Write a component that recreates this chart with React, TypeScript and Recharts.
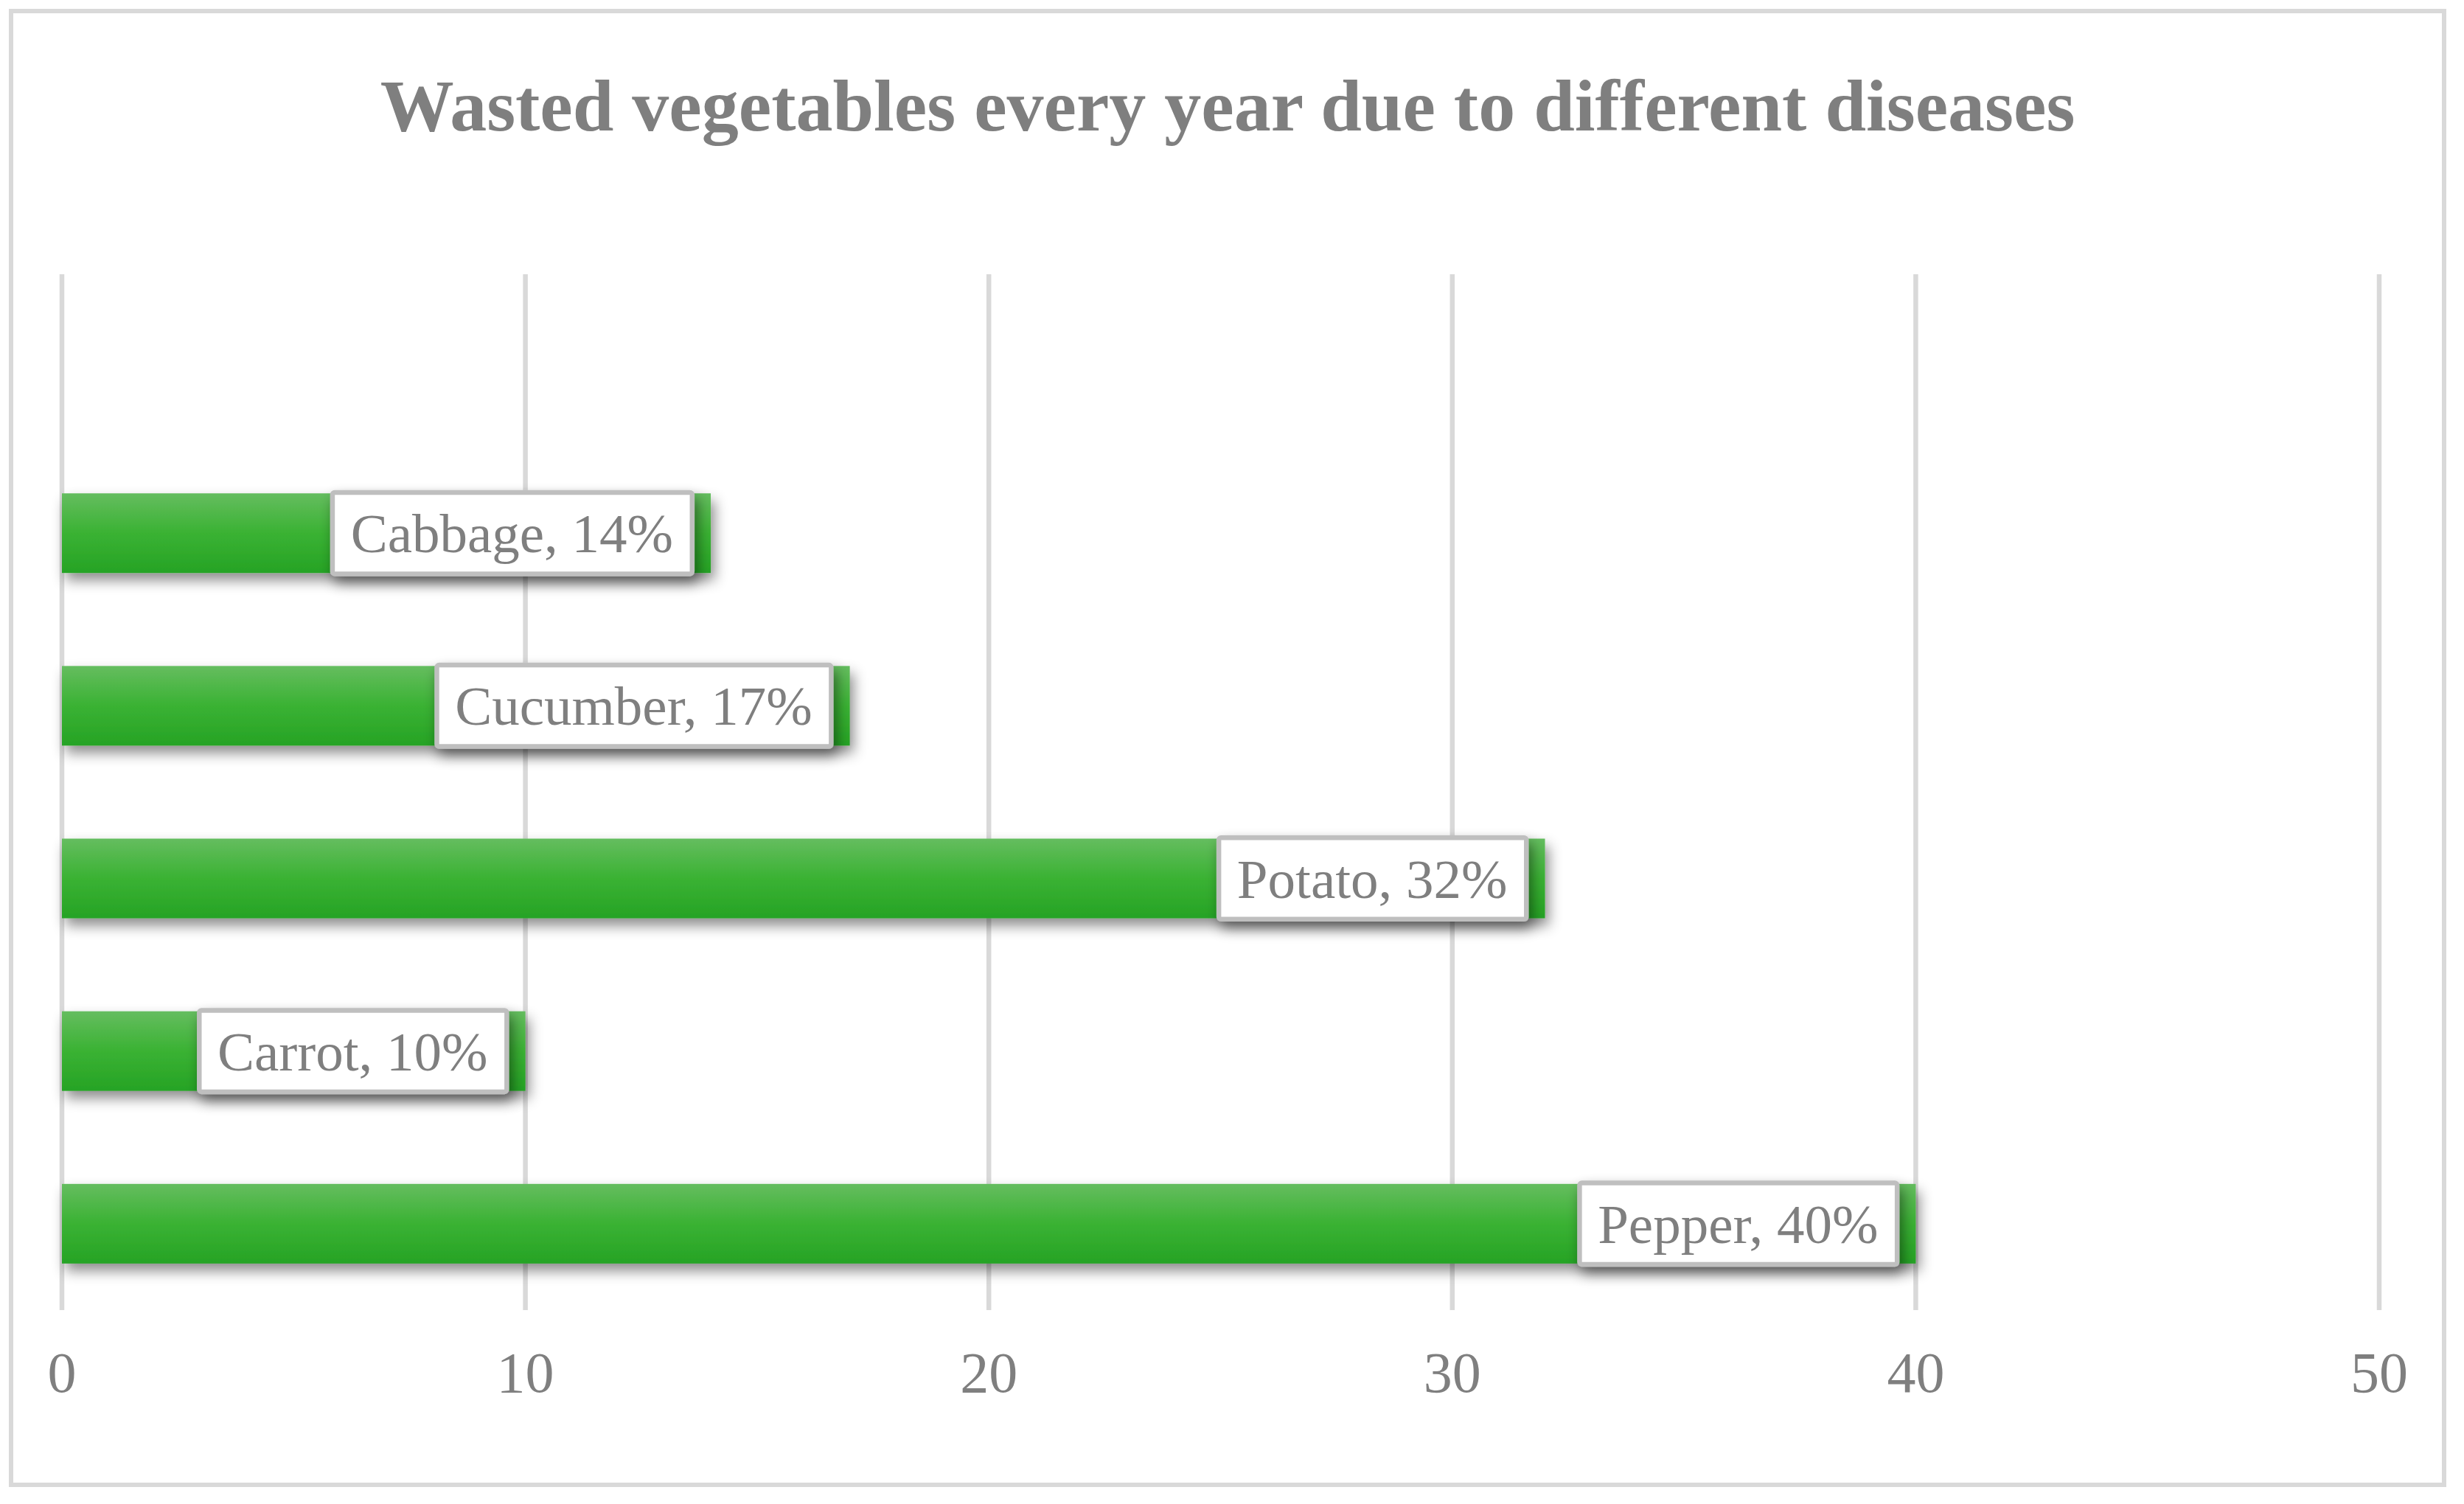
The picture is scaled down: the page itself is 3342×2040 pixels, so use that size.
import React from 'react';
import { BarChart, Bar, XAxis, YAxis, CartesianGrid, LabelList } from 'recharts';

const title = 'Wasted vegetables every year due to different diseases';
const categories = ['', 'Cabbage', 'Cucumber', 'Potato', 'Carrot', 'Pepper'];
const wastedPercent: (number | null)[] = [null, 14, 17, 32, 10, 40];
const xTicks = [0, 10, 20, 30, 40, 50];

const data = categories.map((name, i) => ({
  name,
  value: wastedPercent[i],
  label: wastedPercent[i] == null ? '' : `${name}, ${wastedPercent[i]}%`,
}));

const FONT = "'Liberation Serif', 'Times New Roman', serif";
const GRAY = '#7f7f7f';
const LABEL_SIZE = 75;

let ctx: CanvasRenderingContext2D | null = null;
const measure = (text: string) => {
  if (!ctx) {
    const c = document.createElement('canvas');
    ctx = c.getContext('2d');
  }
  if (!ctx) return text.length * LABEL_SIZE * 0.45;
  ctx.font = `${LABEL_SIZE}px 'Liberation Serif'`;
  return ctx.measureText(text).width;
};

const BarShape = (props: any) => {
  const { x, y, width, height } = props;
  if (!width || width <= 0) return <g />;
  return (
    <rect x={x} y={y} width={width} height={height} fill="url(#barGrad)" filter="url(#shadow)" />
  );
};

const renderLabel = (props: any) => {
  const { x, y, width, height, value } = props;
  if (!value) return null;
  const text = String(value);
  const tw = measure(text);
  const sw = 6.5;
  const outerW = tw + 57;
  const outerH = 117;
  const cy = y + height / 2;
  const right = x + width - 22;
  const left = right - outerW;
  return (
    <g>
      <rect
        x={left + sw / 2}
        y={cy - outerH / 2 + sw / 2}
        width={outerW - sw}
        height={outerH - sw}
        rx={3}
        fill="#ffffff"
        stroke="#bfbfbf"
        strokeWidth={sw}
        filter="url(#shadow)"
      />
      <text x={left + 28} y={cy + 26} fill={GRAY} fontSize={LABEL_SIZE} fontFamily={FONT}>
        {text}
      </text>
    </g>
  );
};

const Tick = (props: any) => {
  const { x, y, payload } = props;
  return (
    <text x={x} y={y + 111} textAnchor="middle" fill={GRAY} fontSize={78} fontFamily={FONT}>
      {payload.value}
    </text>
  );
};

export default function App() {
  return (
    <div style={{ position: 'absolute', left: 0, top: 0, width: 3342, height: 2040, background: '#fff' }}>
      <div
        style={{
          position: 'absolute',
          left: 12,
          top: 12,
          width: 3306,
          height: 2005,
          border: '6.5px solid #d9d9d9',
          boxSizing: 'border-box',
        }}
      />
      <div style={{ position: 'absolute', left: 0, top: 0 }}>
        <BarChart
          width={3342}
          height={2040}
          data={data}
          layout="vertical"
          margin={{ top: 372, right: 115, bottom: 203, left: 84 }}
        >
          <defs>
            <linearGradient id="barGrad" x1="0" y1="0" x2="0" y2="1">
              <stop offset="0%" stopColor="#65bd5f" />
              <stop offset="50%" stopColor="#3ab233" />
              <stop offset="100%" stopColor="#26a325" />
            </linearGradient>
            <filter id="shadow" x="-10%" y="-60%" width="130%" height="260%">
              <feDropShadow dx="5" dy="10" stdDeviation="9" floodColor="#000000" floodOpacity="0.45" />
            </filter>
          </defs>
          <CartesianGrid horizontal={false} stroke="#d9d9d9" strokeWidth={6.5} />
          <XAxis
            type="number"
            domain={[0, 50]}
            ticks={xTicks}
            axisLine={false}
            tickLine={false}
            tickSize={0}
            tickMargin={0}
            height={60}
            tick={<Tick />}
            interval={0}
          />
          <YAxis type="category" dataKey="name" hide />
          <Bar dataKey="value" barSize={108} isAnimationActive={false} shape={<BarShape />}>
            <LabelList dataKey="label" content={renderLabel} />
          </Bar>
        </BarChart>
      </div>
      <svg width={3342} height={2040} style={{ position: 'absolute', left: 0, top: 0, pointerEvents: 'none' }}>
        <text x={1665} y={177} textAnchor="middle" fill={GRAY} fontSize={100} fontWeight="bold" fontFamily={FONT}>
          {title}
        </text>
      </svg>
    </div>
  );
}
